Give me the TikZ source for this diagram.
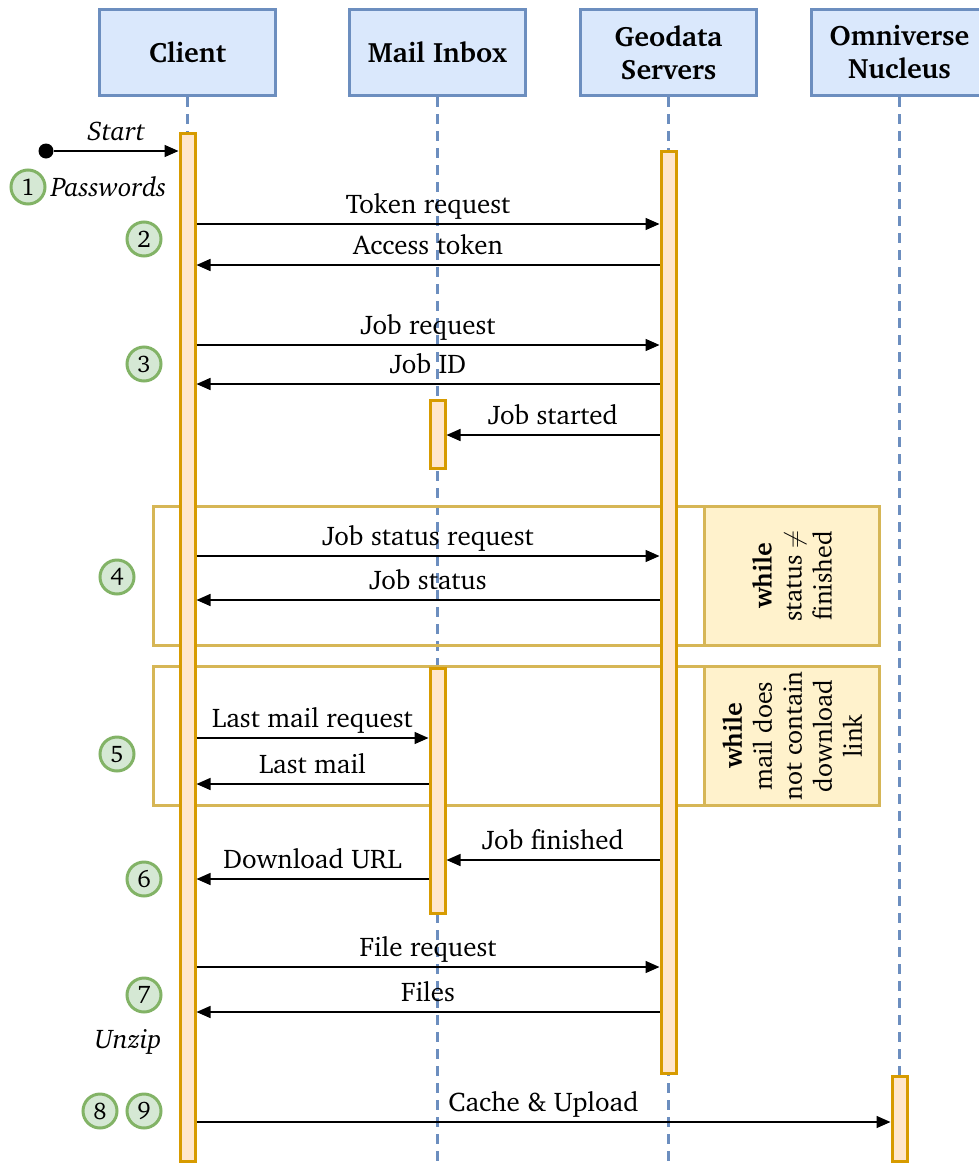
\documentclass[tikz,border=0pt]{standalone}
\usepackage[T1]{fontenc}
\usepackage{charter}
\usetikzlibrary{arrows.meta, positioning}
\definecolor{headfill}{HTML}{DAE8FC}
\definecolor{headdraw}{HTML}{6C8EBF}
\definecolor{barfill}{HTML}{FFE6CC}
\definecolor{bardraw}{HTML}{D79B00}
\definecolor{badgefill}{HTML}{D5E8D4}
\definecolor{badgedraw}{HTML}{82B366}
\definecolor{loopfill}{HTML}{FFF2CC}
\definecolor{loopdraw}{HTML}{D6B656}
\tikzstyle{head} = [
  rectangle,
  minimum width=176pt,
  minimum height=86pt,
  align=center,
  draw=headdraw,
  fill=headfill,
  line width=3pt,
  font=\bfseries\fontsize{28}{33}\selectfont
]
\tikzstyle{bar} = [
  rectangle,
  minimum width=15pt,
  inner sep=0pt,
  draw=bardraw,
  fill=barfill,
  line width=3pt
]
\tikzstyle{lifeline} = [draw=headdraw, line width=3pt, dash pattern=on 10pt off 7pt]
\tikzstyle{badge} = [
  circle,
  minimum size=34pt,
  inner sep=0pt,
  draw=badgedraw,
  fill=badgefill,
  line width=3pt,
  font=\fontsize{24}{26}\selectfont
]
\tikzstyle{loopframe} = [rectangle, draw=loopdraw, line width=3pt, minimum width=726pt, minimum height=139pt, anchor=north west]
\tikzstyle{guardbox} = [rectangle, draw=loopdraw, fill=loopfill, line width=3pt, minimum width=175pt, minimum height=139pt, anchor=north east]
\tikzstyle{guardtext} = [rotate=90, align=center, font=\fontsize{26}{30}\selectfont]
\tikzstyle{msg} = [line width=1.5pt, -{Triangle[length=14pt, width=12pt]}, font=\fontsize{27}{30}\selectfont]
\tikzstyle{lbl} = [above, text depth=6pt]
\tikzstyle{note} = [font=\itshape\fontsize{27}{30}\selectfont]

\begin{document}
\begin{tikzpicture}[x=1pt, y=-1pt]
    \useasboundingbox (0,0) rectangle (979,1165);

    % participants
    \node (client) [head] at (187.5,52.5) {Client};
    \node (mail) [head, right=71pt of client] {Mail Inbox};
    \node (geo) [head, right=52pt of mail] {Geodata\\Servers};
    \node (omni) [head, right=52pt of geo] {Omniverse\\Nucleus};

    \foreach \p in {client, mail, geo, omni}
      \draw [lifeline] (\p.south) -- (\p.south |- 0,1165);

    % loops
    \node (status-loop) [loopframe] at (152,505) {};
    \node (status-guard) [guardbox] at (status-loop.north east) {};
    \node (status-cond) [guardtext] at (status-guard) {\textbf{while}\\status $\neq$\\finished};
    \node (mail-loop) [loopframe] at (152,665) {};
    \node (mail-guard) [guardbox] at (mail-loop.north east) {};
    \node (mail-cond) [guardtext] at (mail-guard) {\textbf{while}\\mail does\\not contain\\download\\link};

    % activations
    \node (client-bar) [bar, minimum height=1028pt, below=35pt of client] {};
    \node (geo-bar) [bar, minimum height=922pt, below=53pt of geo] {};
    \node (mail-bar-a) [bar, minimum height=68pt, below=302pt of mail] {};
    \node (mail-bar-b) [bar, minimum height=245pt, below=570pt of mail] {};
    \node (omni-bar) [bar, minimum height=85pt, below=978pt of omni] {};

    % start
    \node (start) [circle, fill=black, minimum size=15pt, inner sep=0pt] at (46,151) {};
    \draw [msg] (start) -- node[lbl, note] {Start} (client-bar.west |- start);

    % steps
    \node (n1) [badge] at (28,187) {1};
    \node (passwords) [note, right=1pt of n1] {Passwords};
    \node (n2) [badge] at (144,239) {2};
    \node (n3) [badge] at (144,364) {3};
    \node (n4) [badge] at (117,577) {4};
    \node (n5) [badge] at (117,754) {5};
    \node (n6) [badge] at (144,879) {6};
    \node (n7) [badge] at (144,995) {7};
    \node (unzip) [note, anchor=east] at (165,1042) {Unzip};
    \node (n8) [badge] at (100,1111) {8};
    \node (n9) [badge] at (144,1111) {9};

    % messages
    \draw [msg] (client-bar.east |- 0,224) -- node[lbl] {Token request} (geo-bar.west |- 0,224);
    \draw [msg] (geo-bar.west |- 0,265) -- node[lbl] {Access token} (client-bar.east |- 0,265);
    \draw [msg] (client-bar.east |- 0,345) -- node[lbl] {Job request} (geo-bar.west |- 0,345);
    \draw [msg] (geo-bar.west |- 0,384) -- node[lbl] {Job ID} (client-bar.east |- 0,384);
    \draw [msg] (geo-bar.west |- 0,435) -- node[lbl] {Job started} (mail-bar-a.east |- 0,435);
    \draw [msg] (client-bar.east |- 0,556) -- node[lbl] {Job status request} (geo-bar.west |- 0,556);
    \draw [msg] (geo-bar.west |- 0,600) -- node[lbl] {Job status} (client-bar.east |- 0,600);
    \draw [msg] (client-bar.east |- 0,738) -- node[lbl] {Last mail request} (mail-bar-b.west |- 0,738);
    \draw [msg] (mail-bar-b.west |- 0,784) -- node[lbl] {Last mail} (client-bar.east |- 0,784);
    \draw [msg] (geo-bar.west |- 0,860) -- node[lbl] {Job finished} (mail-bar-b.east |- 0,860);
    \draw [msg] (mail-bar-b.west |- 0,879) -- node[lbl] {Download URL} (client-bar.east |- 0,879);
    \draw [msg] (client-bar.east |- 0,967) -- node[lbl] {File request} (geo-bar.west |- 0,967);
    \draw [msg] (geo-bar.west |- 0,1012) -- node[lbl] {Files} (client-bar.east |- 0,1012);
    \draw [msg] (client-bar.east |- 0,1122) -- node[lbl] {Cache \& Upload} (omni-bar.west |- 0,1122);
\end{tikzpicture}
\end{document}
